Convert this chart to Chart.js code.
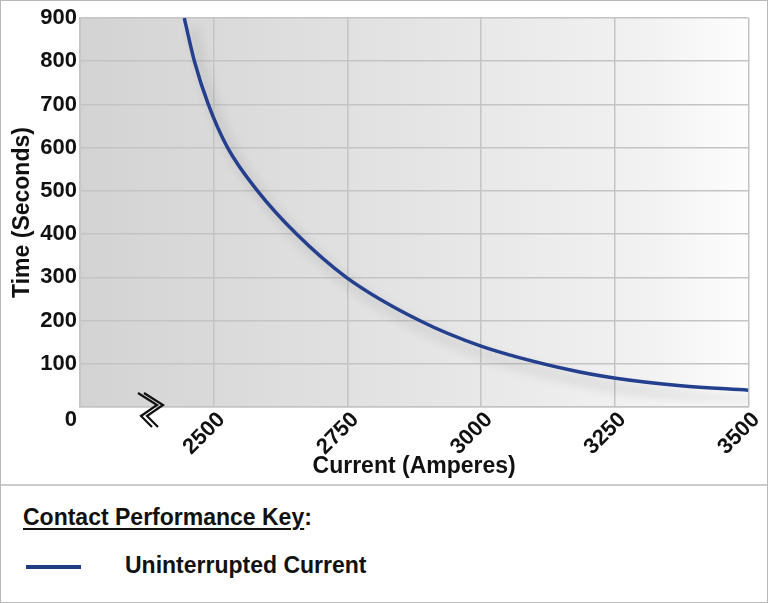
<!DOCTYPE html>
<html>
<head>
<meta charset="utf-8">
<title>Contact Performance</title>
<script src="https://cdn.jsdelivr.net/npm/chart.js@4.4.1/dist/chart.umd.min.js"></script>
<style>
  body { margin: 0; background: #fff; font-family: 'Liberation Sans', Arial, sans-serif; }
  #frame { position: relative; width: 768px; height: 603px; box-sizing: border-box; border: 1px solid #b9b9b9; background: #fff; }
  #plot { position: absolute; left: 0; top: 0; width: 766px; height: 483px; }
  #divider { position: absolute; left: 0; top: 483px; width: 766px; height: 2px; background: #cbcbcb; }
  .key { position: absolute; font-weight: bold; font-size: 23px; line-height: 23px; color: #111; white-space: nowrap; }
  #keyTitle { left: 22px; top: 505px; }
  #keyTitle span { text-decoration: underline; text-underline-offset: 3px; text-decoration-thickness: 2px; }
  #keyLabel { left: 124px; top: 553px; }
  #keyLine { position: absolute; left: 25px; top: 564px; width: 55px; height: 4px; background: #1f3d84; }
</style>
</head>
<body>
<div id="frame">
  <div id="plot"><canvas id="curveChart"></canvas></div>
  <div id="divider"></div>
  <div class="key" id="keyTitle"><span>Contact Performance Key</span>:</div>
  <div id="keyLine"></div>
  <div class="key" id="keyLabel">Uninterrupted Current</div>
</div>
<script>
  // values
  const currentAmps = [2445, 2464, 2490, 2526, 2582, 2655, 2748, 2885, 3000, 3165, 3249, 3374, 3500];
  const timeSeconds = [900, 800, 700, 600, 500, 400, 300, 200, 141, 86, 67, 49, 39];
  const xTicks = [2250, 2500, 2750, 3000, 3250, 3500];
  const yTicks = [0, 100, 200, 300, 400, 500, 600, 700, 800, 900];
  const seriesName = 'Uninterrupted Current';

  const points = currentAmps.map((c, i) => ({ x: c, y: timeSeconds[i] }));

  // grey-to-white wash behind the plot
  const plotBackground = {
    id: 'plotBackground',
    beforeDraw(chart) {
      const { ctx, chartArea: a } = chart;
      const g = ctx.createLinearGradient(a.left, 0, a.right, 0);
      g.addColorStop(0, '#d3d3d3');
      g.addColorStop(0.55, '#e6e6e6');
      g.addColorStop(0.85, '#f2f2f2');
      g.addColorStop(1, '#fdfdfd');
      ctx.save();
      ctx.fillStyle = g;
      ctx.fillRect(a.left, a.top, a.right - a.left, a.bottom - a.top);
      ctx.restore();
    }
  };

  // soft drop shadow under the curve
  const curveShadow = {
    id: 'curveShadow',
    beforeDatasetsDraw(chart) {
      const ctx = chart.ctx;
      ctx.save();
      ctx.shadowColor = 'rgba(0,0,0,0.22)';
      ctx.shadowBlur = 12;
      ctx.shadowOffsetX = 8;
      ctx.shadowOffsetY = 10;
    },
    afterDatasetsDraw(chart) {
      chart.ctx.restore();
    }
  };

  // axis break mark between the origin and 2500
  const axisBreak = {
    id: 'axisBreak',
    afterDraw(chart) {
      const { ctx, chartArea: a } = chart;
      const bx = a.left + 64, by = a.bottom;
      ctx.save();
      ctx.strokeStyle = '#111';
      ctx.lineWidth = 2.2;
      [0, -6].forEach(dx => {
        ctx.beginPath();
        ctx.moveTo(bx + dx, by - 14);
        ctx.lineTo(bx + dx + 19, by - 2);
        ctx.lineTo(bx + dx + 3, by + 9);
        ctx.lineTo(bx + dx + 14, by + 20);
        ctx.stroke();
      });
      ctx.restore();
    }
  };

  const ctx = document.getElementById('curveChart').getContext('2d');
  new Chart(ctx, {
    type: 'scatter',
    data: {
      datasets: [{
        label: seriesName,
        data: points,
        showLine: true,
        borderColor: '#243f8e',
        borderWidth: 3.5,
        pointRadius: 0,
        cubicInterpolationMode: 'monotone',
        fill: false
      }]
    },
    options: {
      responsive: true,
      maintainAspectRatio: false,
      animation: false,
      layout: { padding: { top: 17, right: 18, left: 0, bottom: 0 } },
      plugins: {
        legend: { display: false },
        tooltip: { enabled: false }
      },
      scales: {
        x: {
          type: 'linear',
          min: xTicks[0],
          max: xTicks[xTicks.length - 1],
          afterBuildTicks: s => { s.ticks = xTicks.map(v => ({ value: v })); },
          afterFit: s => { s.height = 77; },
          grid: { color: '#c4c4c4', lineWidth: 1.5, drawTicks: false },
          border: { display: true, color: '#c4c4c4', width: 1.5 },
          ticks: {
            autoSkip: false,
            minRotation: 45,
            maxRotation: 45,
            padding: 0,
            labelOffset: 8,
            color: '#111',
            font: { family: 'Liberation Sans', size: 22, weight: 'bold' },
            callback: v => (v === xTicks[0] ? '' : String(v))
          },
          title: {
            display: true,
            text: 'Current (Amperes)',
            color: '#111',
            padding: { top: 0, bottom: 4 },
            font: { family: 'Liberation Sans', size: 23, weight: 'bold' }
          }
        },
        y: {
          min: 0,
          max: 900,
          afterBuildTicks: s => { s.ticks = yTicks.map(v => ({ value: v })); },
          afterFit: s => { s.width = 79; },
          grid: { color: '#c4c4c4', lineWidth: 1.5, drawTicks: false },
          border: { display: true, color: '#c4c4c4', width: 1.5 },
          ticks: {
            autoSkip: false,
            padding: 3,
            color: '#111',
            font: { family: 'Liberation Sans', size: 22, weight: 'bold', lineHeight: 1.15 },
            // the zero sits below its grid line
            callback: v => (v === 0 ? ['', '0'] : String(v))
          },
          title: {
            display: true,
            text: 'Time (Seconds)',
            color: '#111',
            padding: { top: 8, bottom: 0 },
            font: { family: 'Liberation Sans', size: 23, weight: 'bold' }
          }
        }
      }
    },
    plugins: [plotBackground, curveShadow, axisBreak]
  });
</script>
</body>
</html>
